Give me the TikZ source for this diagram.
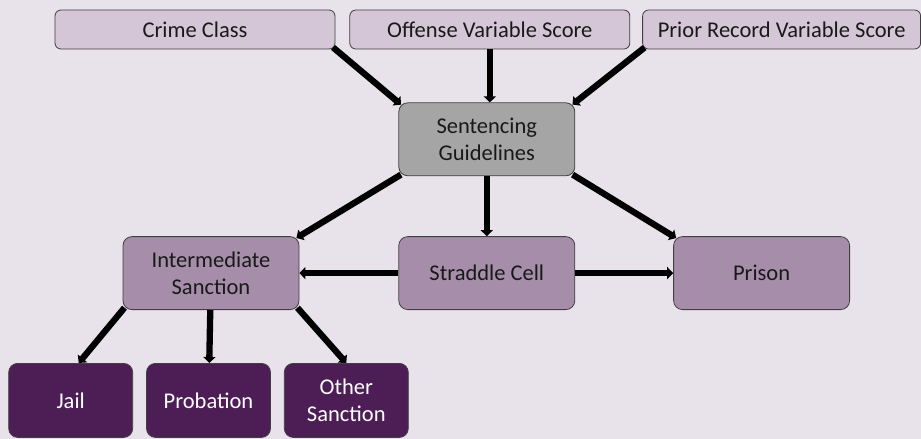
\documentclass[tikz,border=0pt]{standalone}
\usepackage{fontspec}
\setmainfont{Carlito}
\usetikzlibrary{arrows.meta,positioning}
\definecolor{bgcol}{HTML}{E8E3EA}
\definecolor{topcol}{HTML}{D4C6D6}
\definecolor{guidecol}{HTML}{A5A5A5}
\definecolor{midcol}{HTML}{A68DAA}
\definecolor{lowcol}{HTML}{4D1E55}
\tikzstyle{inbox} = [rectangle, draw=black!75, fill=topcol, line width=0.8pt,
    rounded corners=6pt, minimum height=39pt, text=black!90,
    font=\fontsize{22.5}{27}\selectfont]
\tikzstyle{midbox} = [inbox, fill=midcol, rounded corners=9pt, align=center,
    minimum width=176pt, minimum height=73pt]
\tikzstyle{guidebox} = [midbox, fill=guidecol]
\tikzstyle{outbox} = [midbox, fill=lowcol, text=white,
    minimum width=124pt, minimum height=74pt]
\tikzstyle{corner} = [shorten <=-3pt, shorten >=-3.5pt]

\begin{document}
\begin{tikzpicture}[-{Triangle[width=12pt,length=6pt]},line width=6.3pt,
                    x=1pt,y=1pt,auto]

  \fill[bgcol] (0,0) rectangle (921,-439);

  \node[inbox,minimum width=280pt] (crime)   at (195,-29.5)            {Crime Class};
  \node[inbox,minimum width=280pt] (offense) [right=14pt of crime]     {Offense Variable Score};
  \node[inbox,minimum width=278pt] (prior)   [right=12pt of offense]   {Prior Record Variable Score};
  \node[guidebox]   (sent)      [below=53pt of offense,xshift=-3pt]  {Sentencing\\Guidelines};
  \node[midbox]     (straddle)  [below=60pt of sent]                 {Straddle Cell};
  \node[midbox]     (inter)     [left=99pt of straddle]              {Intermediate\\Sanction};
  \node[midbox]     (prison)    [right=98pt of straddle]             {Prison};
  \node[outbox]     (probation) [below=53pt of inter,xshift=-2.5pt]  {Probation};
  \node[outbox]     (jail)      [left=13pt of probation]             {Jail};
  \node[outbox]     (other)     [right=13pt of probation]            {Other\\Sanction};

  \path (crime.south east) edge [corner] (sent.north west)
        (offense.south) edge (offense.south |- sent.north)
        (prior.south west) edge [corner] (sent.north east)
        (sent.south west) edge [corner] (inter.north east)
        (sent) edge (straddle)
        (sent.south east) edge [corner] (prison.north west)
        (straddle) edge (inter)
                   edge (prison)
        (inter.south west) edge [shorten <=-3pt] ([xshift=8pt]jail.north)
        (inter) edge (probation)
        (inter.south east) edge [shorten <=-3pt] (other.north);
\end{tikzpicture}
\end{document}
